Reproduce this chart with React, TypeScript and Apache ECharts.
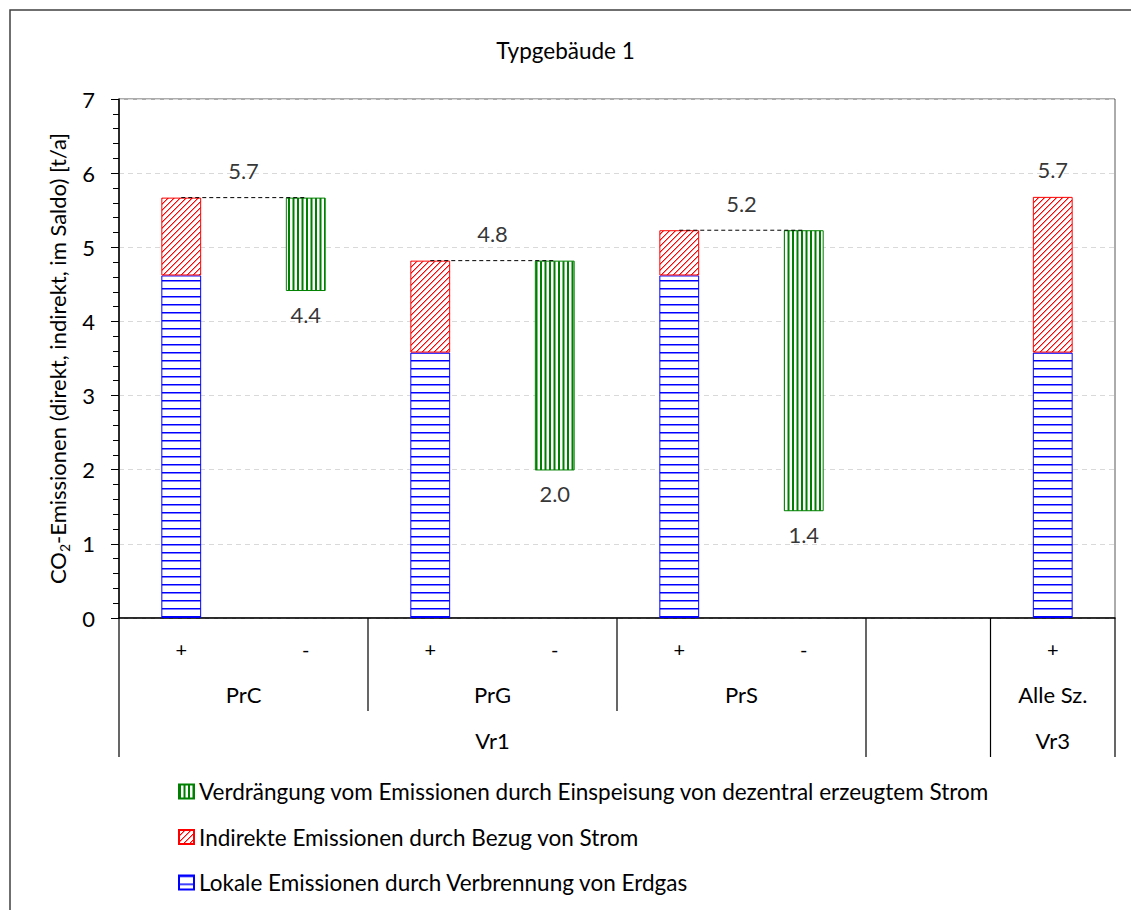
import React, { useEffect, useRef } from 'react';
import * as echarts from 'echarts';

// ---------- data ----------
const slotLabels = ['+', '-', '+', '-', '+', '-', '', '+'];
const level1Groups = ['PrC', 'PrG', 'PrS', '', 'Alle Sz.'];
const level1Spans = [2, 2, 2, 1, 1];
const level2Groups = ['Vr1', '', 'Vr3'];
const level2Spans = [6, 1, 1];

const lokal = [4.62, null, 3.58, null, 4.62, null, null, 3.58];
const indirekt = [1.05, null, 1.24, null, 0.61, null, null, 2.1];
const verdrTop = [null, 5.67, null, 4.82, null, 5.23, null, null];
const verdrBottom = [null, 4.41, null, 1.99, null, 1.44, null, null];

const nameLokal = 'Lokale Emissionen durch Verbrennung von Erdgas';
const nameIndirekt = 'Indirekte Emissionen durch Bezug von Strom';
const nameVerdr = 'Verdrängung vom Emissionen durch Einspeisung von dezentral erzeugtem Strom';

const titleText = 'Typgebäude 1';
const FONT = 'Lato, Carlito, "Open Sans", sans-serif';

function makePattern(w: number, h: number, draw: (ctx: CanvasRenderingContext2D) => void) {
  const c = document.createElement('canvas');
  c.width = w;
  c.height = h;
  const ctx = c.getContext('2d')!;
  ctx.fillStyle = '#ffffff';
  ctx.fillRect(0, 0, w, h);
  draw(ctx);
  return { image: c, repeat: 'repeat' } as any;
}

function buildLabelMap(groups: string[], spans: number[]) {
  const map: Record<string, string> = {};
  let start = 0;
  groups.forEach((g, i) => {
    const center = start + spans[i] / 2;
    map[center.toFixed(2)] = g;
    start += spans[i];
  });
  return map;
}

function boundaries(spans: number[]) {
  const b = [0];
  let s = 0;
  spans.forEach((sp) => {
    s += sp;
    b.push(s);
  });
  return b;
}

export default function App() {
  const ref = useRef<HTMLDivElement>(null);

  useEffect(() => {
    if (!ref.current) return;
    const chart = echarts.init(ref.current, null, { renderer: 'svg' });

    const bluePat = makePattern(8, 8, (ctx) => {
      ctx.fillStyle = '#0000ff';
      ctx.fillRect(0, 0, 8, 1.5);
    });
    const redPat = makePattern(6, 6, (ctx) => {
      ctx.fillStyle = '#ff0000';
      for (let i = 0; i < 6; i++) {
        ctx.fillRect(i, 5 - i, 1, 1);
      }
      ctx.fillStyle = 'rgba(255,0,0,0.45)';
      for (let i = 0; i < 6; i++) {
        ctx.fillRect((i + 1) % 6, 5 - i, 1, 1);
      }
    });
    const greenPat = makePattern(9, 9, (ctx) => {
      ctx.fillStyle = '#008000';
      ctx.fillRect(0, 0, 2, 9);
      ctx.fillRect(4.5, 0, 2, 9);
    });

    const map1 = buildLabelMap(level1Groups, level1Spans);
    const map2 = buildLabelMap(level2Groups, level2Spans);

    // top labels and dashed connectors
    const topLabels: [number, number][] = [];
    const dashSeries: any[] = [];
    lokal.forEach((v, i) => {
      if (v == null) return;
      const total = v + (indirekt[i] ?? 0);
      if (verdrTop[i + 1] != null) {
        topLabels.push([i + 1, total]);
        dashSeries.push({
          type: 'line',
          xAxisIndex: 1,
          data: [
            [i + 0.5, total],
            [i + 1.5, verdrTop[i + 1]],
          ],
          symbol: 'none',
          silent: true,
          z: 5,
          lineStyle: { color: '#000', width: 1, type: [4, 3] },
        });
      } else {
        topLabels.push([i + 0.5, total]);
      }
    });
    const bottomLabels: [number, number][] = [];
    verdrBottom.forEach((v, i) => {
      if (v != null) bottomLabels.push([i + 0.5, v]);
    });

    const labelStyle = { fontSize: 22, color: '#000', fontFamily: FONT };

    chart.setOption({
      animation: false,
      backgroundColor: '#fff',
      textStyle: { fontFamily: FONT },
      title: {
        text: titleText,
        left: 'center',
        top: 39,
        padding: 0,
        textStyle: { fontSize: 22.5, fontWeight: 'normal', color: '#000', fontFamily: FONT },
      },
      legend: {
        orient: 'vertical',
        left: 178,
        top: 780,
        padding: 0,
        icon: 'rect',
        itemWidth: 15,
        itemHeight: 14,
        itemGap: 22.5,
        data: [nameVerdr, nameIndirekt, nameLokal],
        textStyle: { fontSize: 22.5, color: '#000', fontFamily: FONT },
        selectedMode: false,
      },
      grid: {
        left: 119,
        right: 16,
        top: 99,
        bottom: 292,
        show: true,
        borderColor: '#595959',
        borderWidth: 1,
        backgroundColor: 'transparent',
      },
      xAxis: [
        {
          type: 'category',
          data: slotLabels,
          position: 'bottom',
          axisLine: { show: true, lineStyle: { color: '#000', width: 1.5 } },
          axisTick: { show: false },
          axisLabel: { ...labelStyle, fontSize: 20, margin: 21, interval: 0 },
          splitLine: { show: false },
        },
        {
          type: 'value',
          min: 0,
          max: 8,
          interval: 0.5,
          position: 'bottom',
          axisLine: { show: false },
          axisTick: { show: false },
          splitLine: { show: false },
          axisLabel: {
            ...labelStyle,
            margin: 65,
            showMinLabel: true,
            showMaxLabel: true,
            formatter: (v: number) => map1[v.toFixed(2)] ?? '',
          },
        },
        {
          type: 'value',
          min: 0,
          max: 8,
          interval: 0.5,
          position: 'bottom',
          axisLine: { show: false },
          axisTick: { show: false },
          splitLine: { show: false },
          axisLabel: {
            ...labelStyle,
            margin: 111,
            showMinLabel: true,
            showMaxLabel: true,
            formatter: (v: number) => map2[v.toFixed(2)] ?? '',
          },
        },
      ],
      yAxis: {
        type: 'value',
        min: 0,
        max: 7,
        interval: 1,
        axisLine: { show: true, lineStyle: { color: '#000', width: 1.5 } },
        axisTick: { show: true, length: 8, lineStyle: { color: '#000' } },
        minorTick: { show: true, splitNumber: 5, length: 6, lineStyle: { color: '#000' } },
        splitLine: { show: true, lineStyle: { color: '#d9d9d9', type: [5, 4] } },
        axisLabel: { ...labelStyle, margin: 24 },
        name: 'CO{sub|2}-Emissionen (direkt, indirekt, im Saldo) [t/a]',
        nameLocation: 'middle',
        nameGap: 45,
        nameTextStyle: {
          ...labelStyle,
          lineHeight: 28,
          rich: {
            sub: { fontSize: 14, lineHeight: 14, verticalAlign: 'bottom', color: '#000', fontFamily: FONT },
          },
        },
      },
      series: [
        {
          name: nameLokal,
          type: 'bar',
          stack: 's',
          xAxisIndex: 0,
          barWidth: '32%',
          data: lokal.map((v) => (v == null ? '-' : v)),
          itemStyle: { color: bluePat, borderColor: '#0000ff', borderWidth: 1 },
        },
        {
          name: nameIndirekt,
          type: 'bar',
          stack: 's',
          xAxisIndex: 0,
          barWidth: '32%',
          data: indirekt.map((v) => (v == null ? '-' : v)),
          itemStyle: { color: redPat, borderColor: '#ff0000', borderWidth: 1 },
        },
        {
          name: '_base',
          type: 'bar',
          stack: 's',
          xAxisIndex: 0,
          barWidth: '32%',
          silent: true,
          data: verdrBottom.map((v) => (v == null ? '-' : v)),
          itemStyle: { color: 'rgba(0,0,0,0)', borderWidth: 0 },
        },
        {
          name: nameVerdr,
          type: 'bar',
          stack: 's',
          xAxisIndex: 0,
          barWidth: '32%',
          data: verdrTop.map((v, i) => (v == null ? '-' : +(v - (verdrBottom[i] as number)).toFixed(3))),
          itemStyle: { color: greenPat, borderColor: '#008000', borderWidth: 1 },
        },
        ...dashSeries,
        {
          type: 'scatter',
          xAxisIndex: 1,
          symbolSize: 0,
          silent: true,
          z: 6,
          data: topLabels,
          label: {
            show: true,
            position: 'top',
            distance: 16,
            ...labelStyle,
            formatter: (p: any) => p.value[1].toFixed(1),
          },
        },
        {
          type: 'scatter',
          xAxisIndex: 1,
          symbolSize: 0,
          silent: true,
          z: 6,
          data: bottomLabels,
          label: {
            show: true,
            position: 'bottom',
            distance: 12,
            ...labelStyle,
            formatter: (p: any) => p.value[1].toFixed(1),
          },
        },
      ],
    });

    // category separators of the multi-level axis
    const b1 = boundaries(level1Spans);
    const b2 = boundaries(level2Spans);
    const y0 = chart.convertToPixel({ yAxisIndex: 0 }, 0) as number;
    const graphics: any[] = [
      {
        type: 'rect',
        silent: true,
        shape: { x: 10, y: 10, width: 1300, height: 1000 },
        style: { fill: 'none', stroke: '#404040', lineWidth: 1.5 },
      },
    ];
    b1.forEach((b) => {
      const x = chart.convertToPixel({ xAxisIndex: 1 }, b) as number;
      const long = b2.indexOf(b) >= 0;
      graphics.push({
        type: 'line',
        silent: true,
        shape: { x1: x, y1: y0, x2: x, y2: y0 + (long ? 139 : 93) },
        style: { stroke: '#000', lineWidth: 1.2 },
      });
    });
    chart.setOption({ graphic: graphics });

    return () => chart.dispose();
  }, []);

  return (
    <div
      ref={ref}
      style={{ position: 'fixed', left: 0, top: 0, width: 1131, height: 910, background: '#fff' }}
    />
  );
}
